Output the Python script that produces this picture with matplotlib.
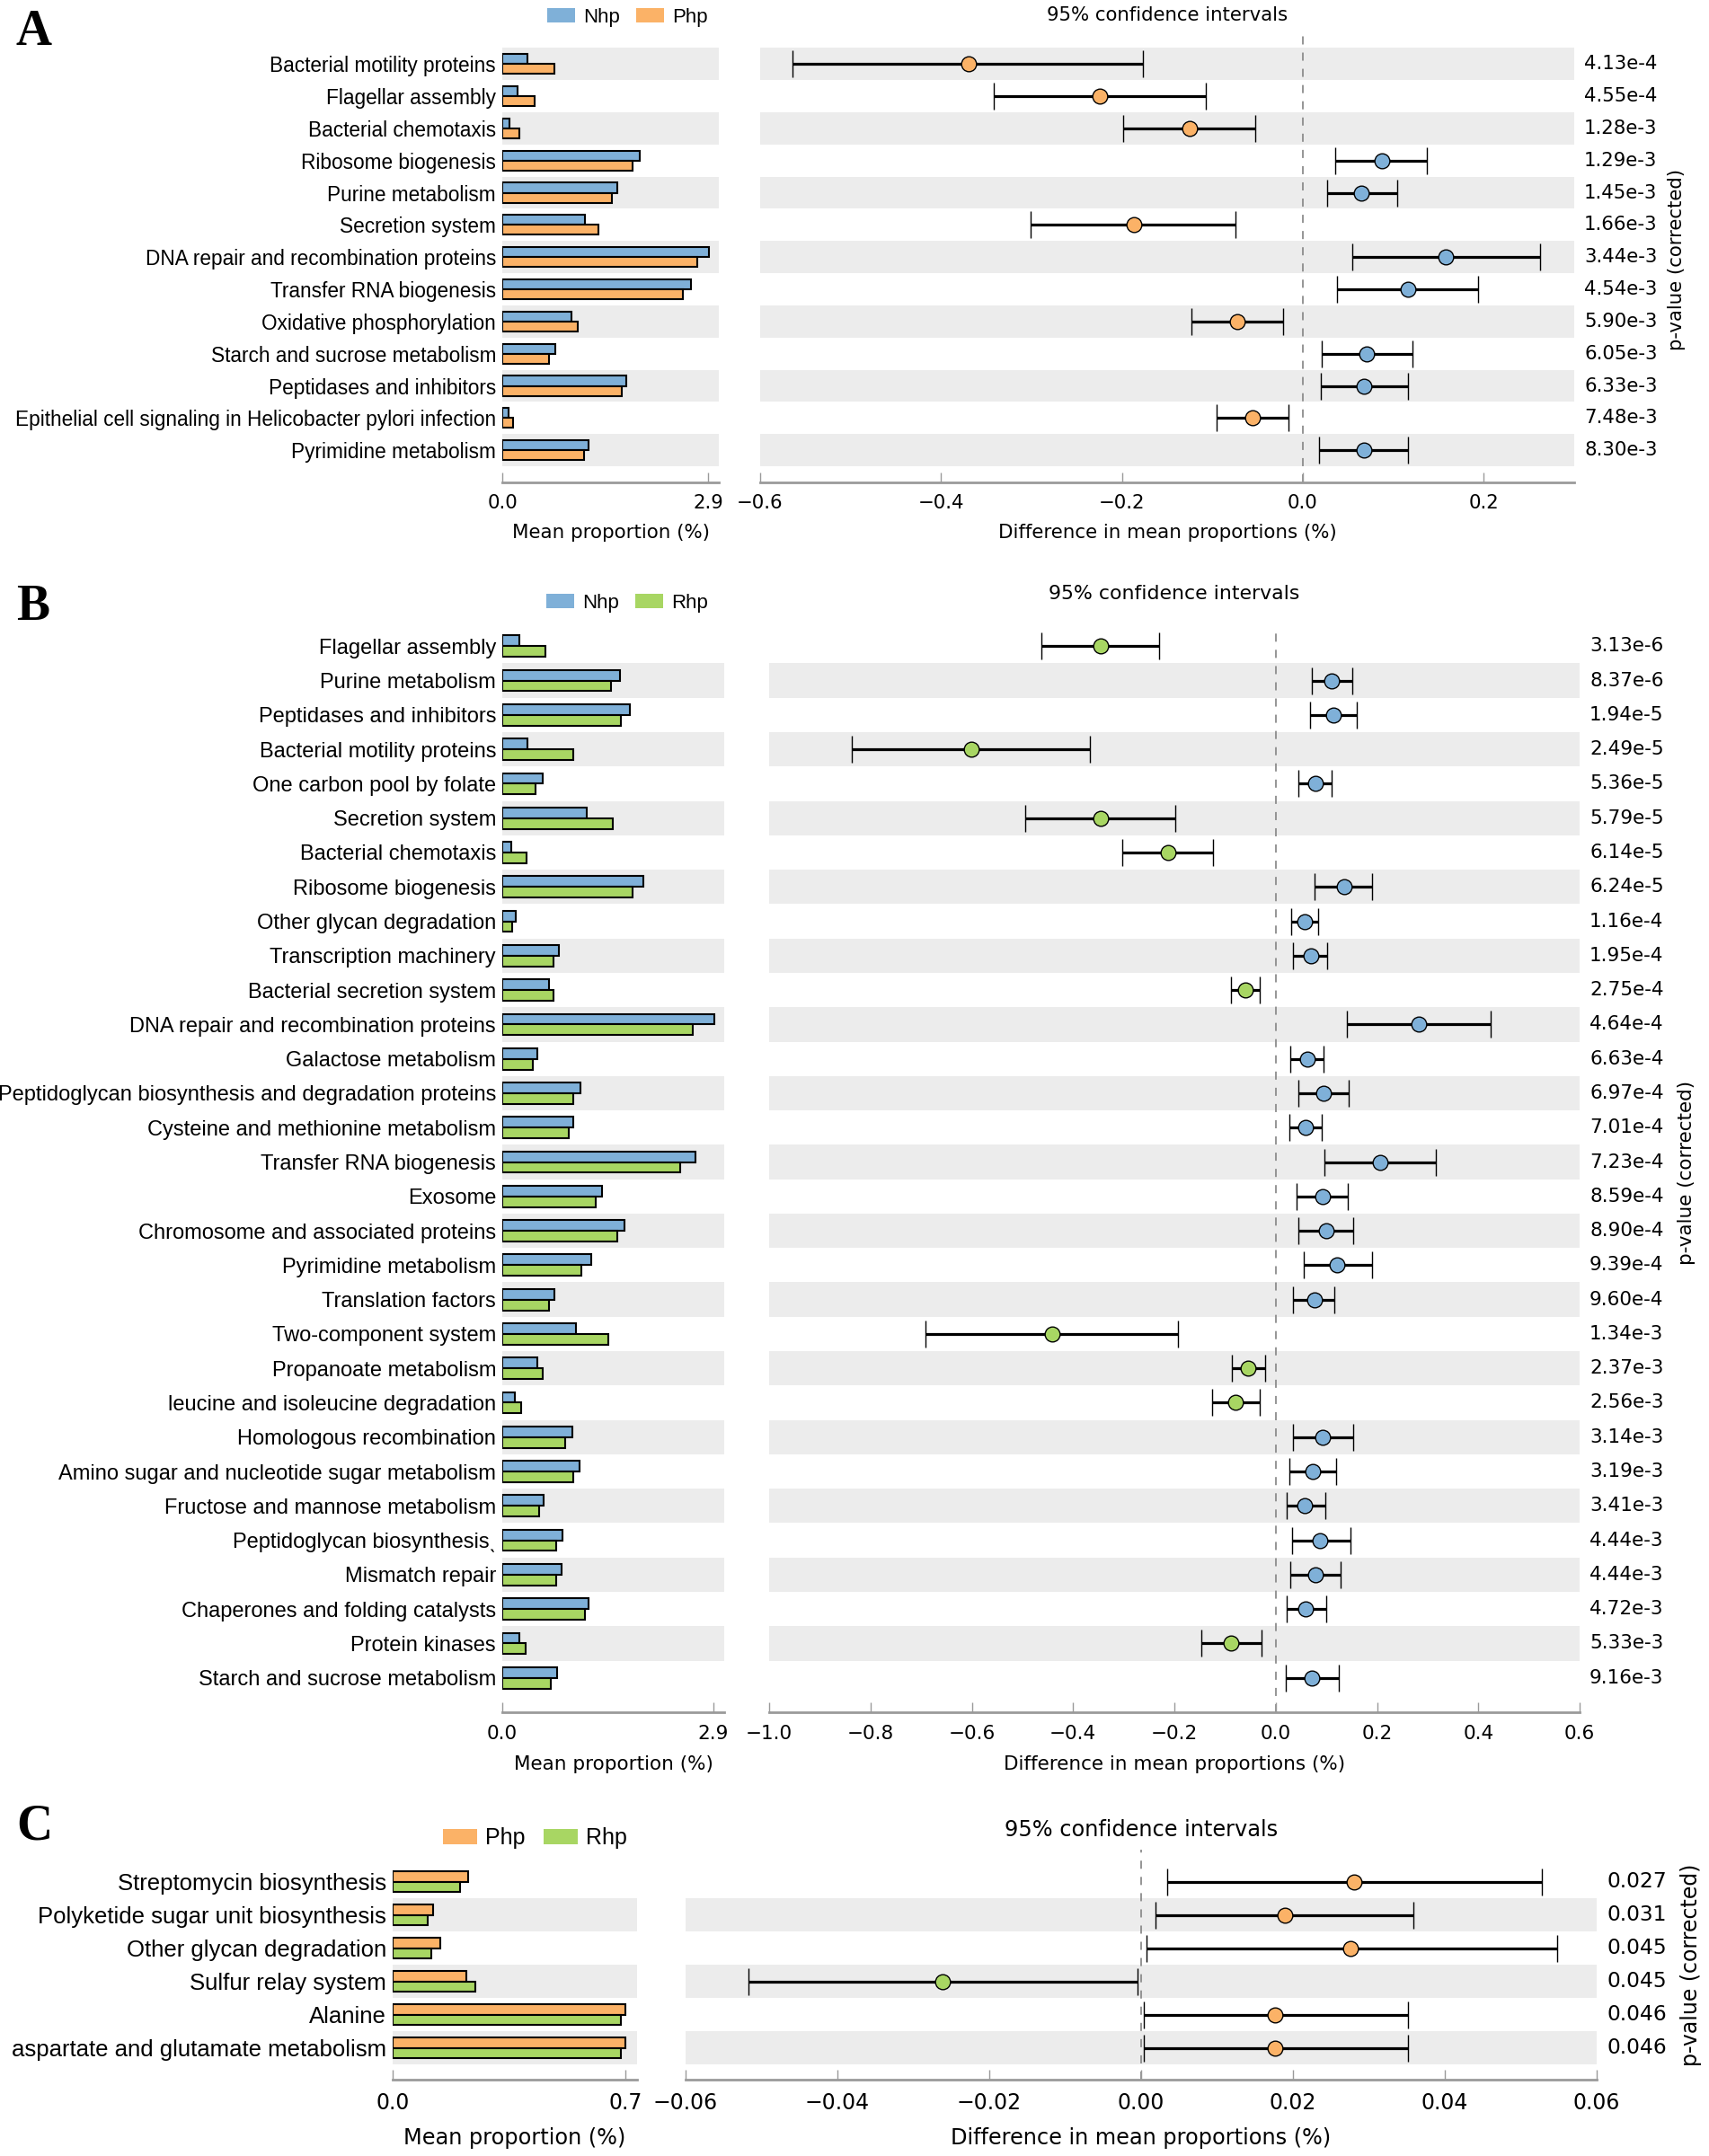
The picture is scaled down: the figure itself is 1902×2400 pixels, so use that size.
import matplotlib
matplotlib.use("Agg")
import matplotlib.pyplot as plt
from matplotlib.patches import Patch
import numpy as np

W, H, DPI = 1902, 2400, 100

# ---------------- data ----------------
# Panel A : Nhp vs Php
a_labels = ["Bacterial motility proteins", "Flagellar assembly", "Bacterial chemotaxis",
            "Ribosome biogenesis", "Purine metabolism", "Secretion system",
            "DNA repair and recombination proteins", "Transfer RNA biogenesis",
            "Oxidative phosphorylation", "Starch and sucrose metabolism",
            "Peptidases and inhibitors",
            "Epithelial cell signaling in Helicobacter pylori infection",
            "Pyrimidine metabolism"]
a_nhp = [0.36, 0.22, 0.10, 1.93, 1.62, 1.16, 2.91, 2.66, 0.98, 0.75, 1.75, 0.09, 1.22]
a_php = [0.74, 0.46, 0.24, 1.84, 1.55, 1.35, 2.75, 2.54, 1.06, 0.66, 1.68, 0.15, 1.15]
a_diff = [-0.370, -0.225, -0.125, 0.087, 0.065, -0.187, 0.158, 0.116, -0.073, 0.071, 0.068, -0.056, 0.068]
a_lo = [-0.564, -0.342, -0.199, 0.036, 0.027, -0.301, 0.055, 0.038, -0.123, 0.021, 0.020, -0.095, 0.018]
a_hi = [-0.177, -0.107, -0.053, 0.137, 0.104, -0.075, 0.262, 0.194, -0.022, 0.121, 0.116, -0.016, 0.116]
a_p = ["4.13e-4", "4.55e-4", "1.28e-3", "1.29e-3", "1.45e-3", "1.66e-3", "3.44e-3",
       "4.54e-3", "5.90e-3", "6.05e-3", "6.33e-3", "7.48e-3", "8.30e-3"]

# Panel B : Nhp vs Rhp
b_labels = ["Flagellar assembly", "Purine metabolism", "Peptidases and inhibitors",
            "Bacterial motility proteins", "One carbon pool by folate", "Secretion system",
            "Bacterial chemotaxis", "Ribosome biogenesis", "Other glycan degradation",
            "Transcription machinery", "Bacterial secretion system",
            "DNA repair and recombination proteins", "Galactose metabolism",
            "Peptidoglycan biosynthesis and degradation proteins",
            "Cysteine and methionine metabolism", "Transfer RNA biogenesis", "Exosome",
            "Chromosome and associated proteins", "Pyrimidine metabolism",
            "Translation factors", "Two-component system", "Propanoate metabolism",
            "leucine and isoleucine degradation", "Homologous recombination",
            "Amino sugar and nucleotide sugar metabolism", "Fructose and mannose metabolism",
            "Peptidoglycan biosynthesis\u02ce", "Mismatch repair",
            "Chaperones and folding catalysts", "Protein kinases",
            "Starch and sucrose metabolism"]
b_nhp = [0.23, 1.62, 1.75, 0.35, 0.55, 1.16, 0.12, 1.94, 0.19, 0.78, 0.64, 2.92, 0.48, 1.07,
         0.98, 2.66, 1.37, 1.68, 1.22, 0.72, 1.01, 0.48, 0.17, 0.96, 1.06, 0.57, 0.83, 0.81,
         1.18, 0.23, 0.75]
b_rhp = [0.59, 1.50, 1.63, 0.97, 0.46, 1.52, 0.33, 1.79, 0.13, 0.71, 0.70, 2.62, 0.42, 0.98,
         0.91, 2.44, 1.28, 1.58, 1.09, 0.64, 1.46, 0.55, 0.26, 0.87, 0.98, 0.51, 0.74, 0.74,
         1.13, 0.32, 0.67]
b_diff = [-0.346, 0.111, 0.114, -0.601, 0.078, -0.346, -0.213, 0.135, 0.058, 0.069, -0.060,
          0.282, 0.062, 0.094, 0.059, 0.207, 0.092, 0.099, 0.121, 0.076, -0.442, -0.054,
          -0.080, 0.093, 0.073, 0.058, 0.088, 0.078, 0.059, -0.088, 0.072]
b_lo = [-0.463, 0.071, 0.067, -0.836, 0.045, -0.494, -0.302, 0.077, 0.031, 0.035, -0.089,
        0.141, 0.029, 0.045, 0.027, 0.097, 0.042, 0.045, 0.055, 0.035, -0.692, -0.087,
        -0.126, 0.035, 0.027, 0.021, 0.032, 0.028, 0.021, -0.146, 0.020]
b_hi = [-0.231, 0.152, 0.160, -0.366, 0.111, -0.198, -0.124, 0.191, 0.084, 0.102, -0.031,
        0.425, 0.095, 0.144, 0.091, 0.316, 0.142, 0.153, 0.190, 0.115, -0.193, -0.021,
        -0.032, 0.153, 0.120, 0.098, 0.148, 0.129, 0.099, -0.028, 0.125]
b_p = ["3.13e-6", "8.37e-6", "1.94e-5", "2.49e-5", "5.36e-5", "5.79e-5", "6.14e-5",
       "6.24e-5", "1.16e-4", "1.95e-4", "2.75e-4", "4.64e-4", "6.63e-4", "6.97e-4",
       "7.01e-4", "7.23e-4", "8.59e-4", "8.90e-4", "9.39e-4", "9.60e-4", "1.34e-3",
       "2.37e-3", "2.56e-3", "3.14e-3", "3.19e-3", "3.41e-3", "4.44e-3", "4.44e-3",
       "4.72e-3", "5.33e-3", "9.16e-3"]

# Panel C : Php vs Rhp
c_labels = ["Streptomycin biosynthesis", "Polyketide sugar unit biosynthesis",
            "Other glycan degradation", "Sulfur relay system", "Alanine",
            "aspartate and glutamate metabolism"]
c_php = [0.228, 0.123, 0.142, 0.221, 0.701, 0.701]
c_rhp = [0.203, 0.105, 0.115, 0.248, 0.686, 0.686]
c_diff = [0.0281, 0.0189, 0.0276, -0.0262, 0.0176, 0.0176]
c_lo = [0.0034, 0.0019, 0.0007, -0.0517, 0.0003, 0.0003]
c_hi = [0.0528, 0.0359, 0.0548, -0.0005, 0.0351, 0.0351]
c_p = ["0.027", "0.031", "0.045", "0.045", "0.046", "0.046"]

# ---------------- style ----------------
BLUE, ORANGE, GREEN = "#7fb0d8", "#fbb267", "#a8d663"
BAND = "#ececec"
AXGRAY = "#9a9a9a"
ROWFONT = ["Liberation Sans", "DejaVu Sans"]
NUMFONT = ["DejaVu Sans"]

fig = plt.figure(figsize=(W / DPI, H / DPI), dpi=DPI)
fig.patch.set_facecolor("white")


def px_axes(l, t, r, b):
    return fig.add_axes([l / W, 1 - b / H, (r - l) / W, (b - t) / H])


def fmt(v, nd):
    s = f"{v:.{nd}f}"
    return s.replace("-", "\u2212")


def style_bottom(ax, fs, pad):
    for s in ("top", "right", "left"):
        ax.spines[s].set_visible(False)
    ax.spines["bottom"].set_color(AXGRAY)
    ax.spines["bottom"].set_linewidth(2.0)
    ax.tick_params(axis="x", direction="in", length=8, width=1, color=AXGRAY,
                   labelsize=fs, pad=pad)
    for lab in ax.get_xticklabels():
        lab.set_fontfamily(NUMFONT)


def panel(letter, letter_base, bar_box, ci_box, ylim, labels, v1, v2, c1, c2,
          names, diff, lo, hi, pvals, bar_xmax, bar_ticks, bar_tl, ci_xlim, ci_ticks,
          ci_nd, parity, rowfs, numfs, title_y, leg_x, leg_y, pfs, ticklab_pad,
          xlab_pad, xlab_fs, title_fs, leg_fs, leg_hl, plab_x):
    n = len(labels)
    y = np.arange(n)
    axb = px_axes(*bar_box)
    axc = px_axes(*ci_box)
    for ax in (axb, axc):
        ax.set_ylim(*ylim)
        for i in range(n):
            if i % 2 == parity:
                ax.axhspan(i - 0.5, i + 0.5, color=BAND, lw=0, zorder=0)
    # bars
    h = 0.31
    axb.barh(y - h / 2, v1, height=h, color=c1, edgecolor="black", lw=1.5, zorder=3)
    axb.barh(y + h / 2, v2, height=h, color=c2, edgecolor="black", lw=1.5, zorder=3)
    axb.set_xlim(0, bar_xmax)
    axb.set_xticks(bar_ticks)
    axb.set_xticklabels(bar_tl)
    axb.set_yticks(y)
    axb.set_yticklabels(labels, fontfamily=ROWFONT, fontsize=rowfs)
    axb.tick_params(axis="y", length=0, pad=5)
    style_bottom(axb, numfs, ticklab_pad)
    axb.set_xlabel("Mean proportion (%)", fontsize=xlab_fs, fontfamily=NUMFONT,
                   labelpad=xlab_pad)
    # confidence intervals
    axc.axvline(0, color="#8c8c8c", ls=(0, (5, 5)), lw=1.3, zorder=1)
    for i in range(n):
        col = c1 if diff[i] > 0 else c2
        axc.errorbar(diff[i], i, xerr=[[diff[i] - lo[i]], [hi[i] - diff[i]]],
                     fmt="o", ms=12, mfc=col, mec="black", mew=1.0, ecolor="black",
                     elinewidth=2.3, capsize=11, capthick=1.0, zorder=4)
    axc.set_xlim(*ci_xlim)
    axc.set_xticks(ci_ticks)
    axc.set_xticklabels([fmt(t, ci_nd) for t in ci_ticks])
    axc.set_yticks([])
    style_bottom(axc, numfs, ticklab_pad)
    axc.set_xlabel("Difference in mean proportions (%)", fontsize=xlab_fs,
                   fontfamily=NUMFONT, labelpad=xlab_pad)
    for i in range(n):
        axc.annotate(pvals[i], xy=(1, i), xycoords=("axes fraction", "data"),
                     xytext=(8, 0), textcoords="offset points", va="center", ha="left",
                     fontsize=pfs, fontfamily=NUMFONT)
    # p-value label
    yc = (ci_box[1] + ci_box[3]) / 2
    fig.text(plab_x / W, 1 - yc / H, "p-value (corrected)", rotation=90, va="center",
             ha="center", fontsize=numfs, fontfamily=NUMFONT)
    # title
    cx = (ci_box[0] + ci_box[2]) / 2
    fig.text(cx / W, 1 - title_y / H, "95% confidence intervals", ha="center",
             va="center", fontsize=title_fs, fontfamily=NUMFONT)
    # legend
    handles = [Patch(facecolor=c1, edgecolor="none"), Patch(facecolor=c2, edgecolor="none")]
    fig.legend(handles, names, loc="center left", bbox_to_anchor=(leg_x / W, 1 - leg_y / H),
               ncol=2, frameon=False, borderpad=0, borderaxespad=0, handlelength=leg_hl,
               handleheight=0.7, handletextpad=0.4, columnspacing=0.8,
               prop={"family": ROWFONT, "size": leg_fs})
    # panel letter
    fig.text(18 / W, 1 - letter_base / H, letter, ha="left", va="baseline",
             fontsize=40, fontweight="bold", fontfamily=["Liberation Serif", "DejaVu Serif"])


panel("A", 50, (559, 40, 800, 537), (846, 40, 1752, 537), (13.0, -0.87),
      a_labels, a_nhp, a_php, BLUE, ORANGE, ["Nhp", "Php"], a_diff, a_lo, a_hi, a_p,
      3.05, [0, 2.9], ["0.0", "2.9"], (-0.6, 0.3), [-0.6, -0.4, -0.2, 0.0, 0.2], 1,
      0, 16.3, 15.3, 17, 609, 19, 15.3, 9, 10, 15.4, 15.3, 16, 1.4, 1866)

panel("B", 690, (559, 704, 806, 1906), (856, 704, 1758, 1906), (31.0, -0.4),
      b_labels, b_nhp, b_rhp, BLUE, GREEN, ["Nhp", "Rhp"], b_diff, b_lo, b_hi, b_p,
      3.05, [0, 2.9], ["0.0", "2.9"], (-1.0, 0.6),
      [-1.0, -0.8, -0.6, -0.4, -0.2, 0.0, 0.2, 0.4, 0.6], 1,
      1, 17.0, 15.5, 661, 608, 671, 15.5, 10, 10, 15.5, 15.8, 16, 1.4, 1877)

panel("C", 2048, (437, 2059, 709, 2315), (763, 2059, 1777, 2315), (5.95, -0.97),
      c_labels, c_php, c_rhp, ORANGE, GREEN, ["Php", "Rhp"], c_diff, c_lo, c_hi, c_p,
      0.7355, [0, 0.7], ["0.0", "0.7"], (-0.06, 0.06),
      [-0.06, -0.04, -0.02, 0.0, 0.02, 0.04, 0.06], 2,
      1, 18.5, 17, 2037, 493, 2046, 16.8, 10, 11, 17.3, 17.3, 18, 1.5, 1882)

fig.savefig("out.png", dpi=DPI, facecolor="white")
